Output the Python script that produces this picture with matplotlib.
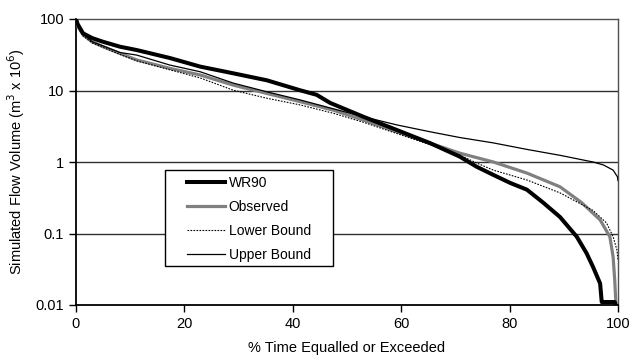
import matplotlib
matplotlib.use("Agg")
import matplotlib.pyplot as plt
from matplotlib.ticker import NullLocator
from matplotlib.patches import Rectangle

plt.rcParams['font.family'] = ['Liberation Sans', 'DejaVu Sans']

wr90_x = [0, 0.3, 1.3, 3, 5, 8.1, 11.2, 17.3, 22.9, 29, 35.2, 41.3, 44.4, 46.9, 53, 59.2,
          65.3, 70.8, 73.9, 77, 80.1, 83.2, 86.2, 89.3, 92.4, 94.2, 95.4, 96.7, 97.0, 99.4, 99.6]
wr90_y = [100, 85, 63, 54, 48, 41, 36.8, 28.5, 21.6, 17.4, 13.9, 10.1, 8.7, 6.7, 4.3, 2.8,
          1.84, 1.19, 0.86, 0.66, 0.51, 0.41, 0.27, 0.17, 0.09, 0.053, 0.034, 0.020, 0.011,
          0.011, 0.01]

obs_x = [0, 0.3, 1.3, 3, 5, 8.1, 11.2, 17.3, 22.9, 29, 35.2, 41.3, 47.5, 53, 59.2, 65.3,
         70.8, 77, 83.2, 89.3, 93.3, 96.7, 98.5, 99.1, 99.4, 99.6]
obs_y = [100, 80, 60, 48, 41, 33, 26.8, 20.4, 16.5, 11.9, 9.1, 7.0, 5.3, 3.87, 2.65, 1.84,
         1.33, 1.0, 0.70, 0.45, 0.27, 0.155, 0.09, 0.047, 0.022, 0.011]

low_x = [0, 0.3, 1.3, 3, 5, 8.1, 11.2, 17.3, 22.9, 29, 35.2, 41.3, 47.5, 53, 59.2, 65.3,
         70.8, 73.9, 77, 83.2, 89.3, 95.4, 97.9, 99.1, 99.8, 100]
low_y = [100, 78, 58, 46, 40, 32, 26, 19.5, 15, 10.1, 7.8, 6.3, 4.8, 3.6, 2.5, 1.75,
         1.25, 0.97, 0.77, 0.56, 0.37, 0.21, 0.14, 0.09, 0.059, 0.042]

up_x = [0, 0.3, 1.3, 3, 5, 8.1, 11.2, 17.3, 22.9, 29, 35.2, 41.3, 46.9, 53, 59.2, 65.3,
        70.8, 77, 83.2, 89.3, 95.4, 97.3, 99.1, 99.9, 100]
up_y = [100, 82, 62, 48, 42, 34, 31.3, 22.7, 18.3, 12.7, 9.6, 7.4, 5.7, 4.3, 3.3, 2.65,
        2.2, 1.85, 1.5, 1.24, 1.0, 0.91, 0.77, 0.62, 0.55]

xticks = [0, 20, 40, 60, 80, 100]
yticks = [0.01, 0.1, 1, 10, 100]
ytick_labels = ['0.01', '0.1', '1', '10', '100']

W, H = 631, 358
fig = plt.figure(figsize=(W / 100, H / 100), dpi=100)
ax = fig.add_axes([76 / W, 1 - 305 / H, 542 / W, 286 / H])

ax.set_yscale('log')
ax.set_xlim(0, 100)
ax.set_ylim(0.01, 100)

for yv in [0.1, 1, 10]:
    ax.axhline(yv, color='#303030', lw=1.0, zorder=1)

ax.plot(wr90_x, wr90_y, color='black', lw=2.9, label='WR90', zorder=4)
ax.plot(obs_x, obs_y, color='#808080', lw=2.3, label='Observed', zorder=3)
ax.plot(low_x, low_y, color='black', lw=0.8, ls=(0, (1.5, 1.2)), label='Lower Bound', zorder=3)
ax.plot(up_x, up_y, color='black', lw=0.9, label='Upper Bound', zorder=3)

ax.set_xticks(xticks)
ax.set_xticklabels([str(t) for t in xticks])
ax.set_yticks(yticks)
ax.set_yticklabels(ytick_labels)
ax.yaxis.set_minor_locator(NullLocator())
ax.tick_params(axis='both', direction='out', length=5, width=1, labelsize=10.5, colors='black')

for s in ['left', 'bottom']:
    ax.spines[s].set_color('black')
    ax.spines[s].set_linewidth(1.3)
for s in ['top', 'right']:
    ax.spines[s].set_color('#505050')
    ax.spines[s].set_linewidth(1.0)

ax.set_xlabel('% Time Equalled or Exceeded', fontsize=10.5, labelpad=7)
ax.set_ylabel('Simulated Flow Volume (m$^3$ x 10$^6$)', fontsize=10.5, labelpad=6)

# legend frame (white box, drawn over gridlines)
frame = Rectangle((165 / W, 1 - 266 / H), 168 / W, 96 / H, transform=fig.transFigure,
                  facecolor='white', edgecolor='black', lw=1.0, zorder=5, clip_on=False)
ax.add_patch(frame)

leg = ax.legend(loc='upper left', bbox_to_anchor=(183 / W, 1 - 172 / H),
                bbox_transform=fig.transFigure, frameon=False, fontsize=10,
                handlelength=2.7, handletextpad=0.3, borderpad=0.3, labelspacing=0.72,
                borderaxespad=0)
leg.set_zorder(6)

fig.savefig('out.png', dpi=100, facecolor='white')
